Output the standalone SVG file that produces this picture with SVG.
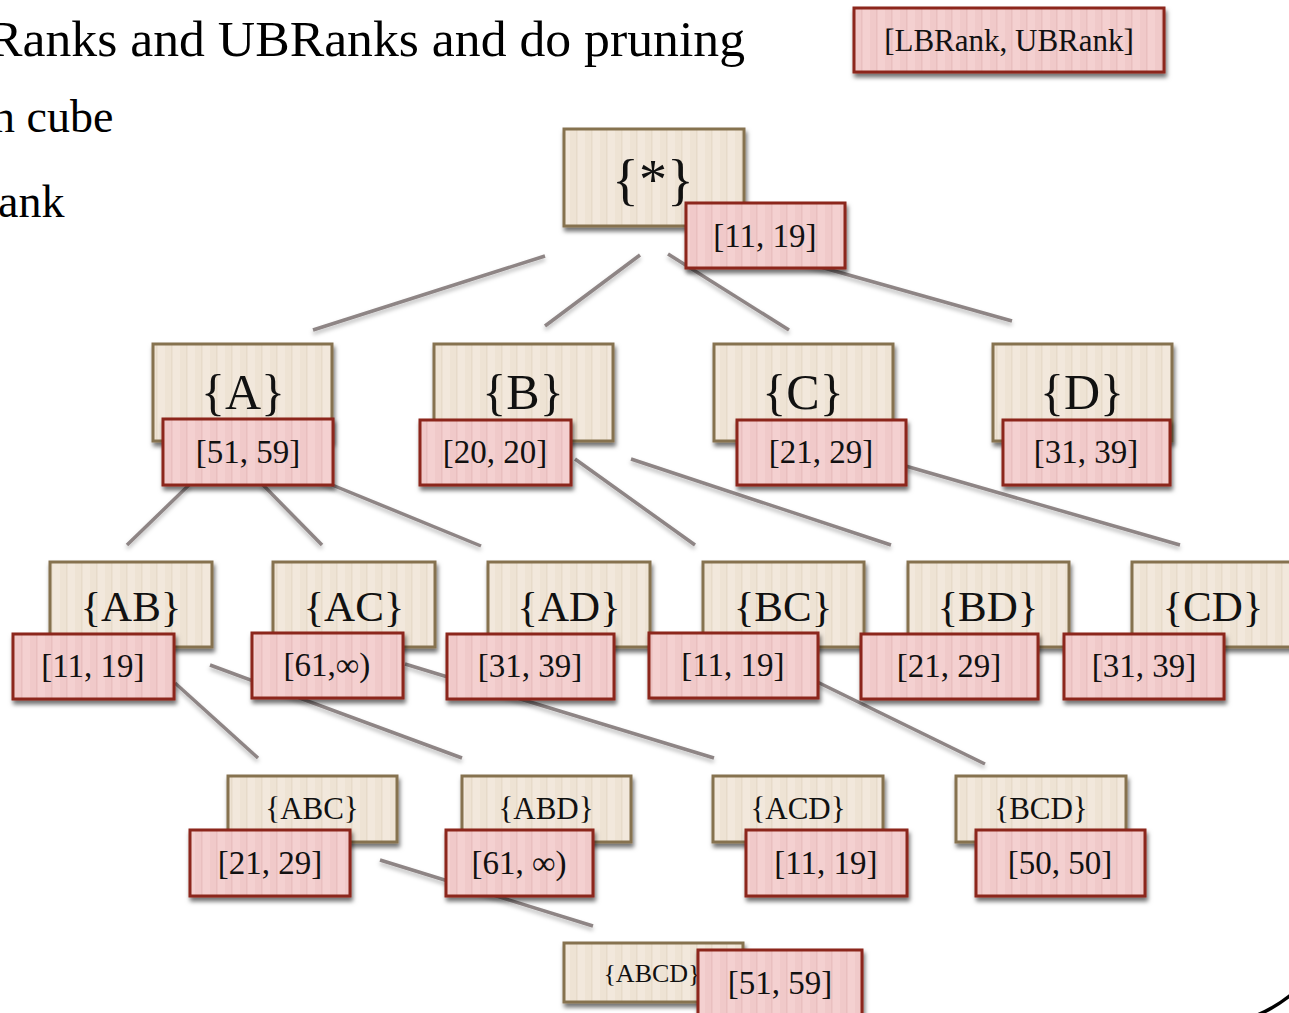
<svg xmlns="http://www.w3.org/2000/svg" width="1289" height="1013" viewBox="0 0 1289 1013">
  <defs>
    <pattern id="stripeSet" patternUnits="userSpaceOnUse" width="15" height="10">
      <rect width="15" height="10" fill="#f2e8dc"/>
      <rect x="0" width="6" height="10" fill="#eee3d4"/>
      <rect x="6" width="1.5" height="10" fill="#e7dbca"/>
    </pattern>
    <pattern id="stripeRank" patternUnits="userSpaceOnUse" width="15" height="10">
      <rect width="15" height="10" fill="#f4d0d0"/>
      <rect x="0" width="6" height="10" fill="#f0c9c9"/>
      <rect x="6" width="1.5" height="10" fill="#e9bfbf"/>
    </pattern>
    <filter id="boxShadow" x="-10%" y="-10%" width="125%" height="135%">
      <feDropShadow dx="1.5" dy="4" stdDeviation="2.2" flood-color="#000" flood-opacity="0.55"/>
    </filter>
    <filter id="lineShadow" x="-5%" y="-5%" width="110%" height="115%">
      <feDropShadow dx="0" dy="3" stdDeviation="2" flood-color="#000" flood-opacity="0.28"/>
    </filter>
  </defs>
  <style>
    .set { fill: url(#stripeSet); stroke: #86724f; stroke-width: 3; filter: url(#boxShadow); }
    .rank { fill: url(#stripeRank); stroke: #8c261b; stroke-width: 3; filter: url(#boxShadow); }
    .edge { stroke: #8e8585; stroke-width: 3.5; fill: none; }
    text { font-family: "Liberation Serif", "Times New Roman", serif; fill: #111; text-anchor: middle; }
    .head { text-anchor: start; fill: #000; }
    .t0 { font-size: 56px; }
    .t1 { font-size: 50px; }
    .t2 { font-size: 43px; }
    .t3 { font-size: 31px; }
    .t4 { font-size: 26px; }
    .r { font-size: 33px; }
  </style>

  <rect width="1289" height="1013" fill="#ffffff"/>

  <!-- slide heading lines, running in from the left margin -->
  <text class="head" x="-12" y="56" font-size="50" textLength="757" lengthAdjust="spacingAndGlyphs">Ranks and UBRanks and do pruning</text>
  <text class="head" x="-8" y="132" font-size="46">n cube</text>
  <text class="head" x="-2" y="217" font-size="46">ank</text>

  <!-- decorative arc, lower right -->
  <path d="M1255,1016 Q1275,1008 1292,994" fill="none" stroke="#000" stroke-width="3.5"/>

  <!-- legend -->
  <g id="legend">
    <rect class="rank" x="854" y="8" width="310" height="64"/>
    <text x="1009" y="51" font-size="31">[LBRank, UBRank]</text>
  </g>

  <!-- lattice edges -->
  <g id="connectors" filter="url(#lineShadow)">
    <line class="edge" x1="545" y1="256" x2="313" y2="330"/>
    <line class="edge" x1="640" y1="255" x2="545" y2="326"/>
    <line class="edge" x1="668" y1="254" x2="789" y2="330"/>
    <line class="edge" x1="760" y1="250" x2="1012" y2="321"/>

    <line class="edge" x1="190" y1="484" x2="127" y2="545"/>
    <line class="edge" x1="262" y1="484" x2="322" y2="545"/>
    <line class="edge" x1="320" y1="480" x2="481" y2="546"/>
    <line class="edge" x1="575" y1="459" x2="695" y2="545"/>
    <line class="edge" x1="631" y1="459" x2="891" y2="545"/>
    <line class="edge" x1="850" y1="450" x2="1180" y2="545"/>

    <line class="edge" x1="175" y1="683" x2="258" y2="758"/>
    <line class="edge" x1="210" y1="665" x2="462" y2="758"/>
    <line class="edge" x1="405" y1="664" x2="714" y2="758"/>
    <line class="edge" x1="805" y1="676" x2="985" y2="764"/>

    <line class="edge" x1="380" y1="860" x2="593" y2="926"/>
  </g>

  <!-- apex -->
  <g id="n-all">
    <rect class="set" x="564" y="129" width="180" height="97"/>
    <text class="t0" x="653" y="199">{*}</text>
    <rect class="rank" x="686" y="203" width="159" height="65"/>
    <text class="r" x="765" y="247">[11, 19]</text>
  </g>

  <!-- single dimensions -->
  <g id="n-A">
    <rect class="set" x="153" y="344" width="179" height="97"/>
    <text class="t1" x="243" y="409">{A}</text>
    <rect class="rank" x="163" y="419" width="170" height="66"/>
    <text class="r" x="248" y="463">[51, 59]</text>
  </g>
  <g id="n-B">
    <rect class="set" x="434" y="344" width="179" height="97"/>
    <text class="t1" x="523" y="409">{B}</text>
    <rect class="rank" x="420" y="420" width="151" height="65"/>
    <text class="r" x="495" y="463">[20, 20]</text>
  </g>
  <g id="n-C">
    <rect class="set" x="714" y="344" width="179" height="97"/>
    <text class="t1" x="803" y="409">{C}</text>
    <rect class="rank" x="737" y="420" width="169" height="65"/>
    <text class="r" x="821" y="463">[21, 29]</text>
  </g>
  <g id="n-D">
    <rect class="set" x="993" y="344" width="179" height="97"/>
    <text class="t1" x="1082" y="409">{D}</text>
    <rect class="rank" x="1003" y="420" width="167" height="65"/>
    <text class="r" x="1086" y="463">[31, 39]</text>
  </g>

  <!-- pairs -->
  <g id="n-AB">
    <rect class="set" x="50" y="562" width="162" height="85"/>
    <text class="t2" x="131" y="621">{AB}</text>
    <rect class="rank" x="13" y="634" width="161" height="65"/>
    <text class="r" x="93" y="677">[11, 19]</text>
  </g>
  <g id="n-AC">
    <rect class="set" x="273" y="562" width="162" height="85"/>
    <text class="t2" x="354" y="621">{AC}</text>
    <rect class="rank" x="252" y="633" width="151" height="65"/>
    <text class="r" x="327" y="676">[61,∞)</text>
  </g>
  <g id="n-AD">
    <rect class="set" x="488" y="562" width="162" height="85"/>
    <text class="t2" x="569" y="621">{AD}</text>
    <rect class="rank" x="447" y="634" width="167" height="65"/>
    <text class="r" x="530" y="677">[31, 39]</text>
  </g>
  <g id="n-BC">
    <rect class="set" x="703" y="562" width="161" height="85"/>
    <text class="t2" x="783" y="621">{BC}</text>
    <rect class="rank" x="649" y="633" width="169" height="65"/>
    <text class="r" x="733" y="676">[11, 19]</text>
  </g>
  <g id="n-BD">
    <rect class="set" x="908" y="562" width="161" height="85"/>
    <text class="t2" x="988" y="621">{BD}</text>
    <rect class="rank" x="861" y="634" width="177" height="65"/>
    <text class="r" x="949" y="677">[21, 29]</text>
  </g>
  <g id="n-CD">
    <rect class="set" x="1132" y="562" width="162" height="85"/>
    <text class="t2" x="1213" y="621">{CD}</text>
    <rect class="rank" x="1064" y="634" width="160" height="65"/>
    <text class="r" x="1144" y="677">[31, 39]</text>
  </g>

  <!-- triples -->
  <g id="n-ABC">
    <rect class="set" x="228" y="776" width="169" height="66"/>
    <text class="t3" x="312" y="819">{ABC}</text>
    <rect class="rank" x="190" y="830" width="160" height="66"/>
    <text class="r" x="270" y="874">[21, 29]</text>
  </g>
  <g id="n-ABD">
    <rect class="set" x="462" y="776" width="169" height="66"/>
    <text class="t3" x="546" y="819">{ABD}</text>
    <rect class="rank" x="446" y="830" width="147" height="66"/>
    <text class="r" x="519" y="874">[61, ∞)</text>
  </g>
  <g id="n-ACD">
    <rect class="set" x="713" y="776" width="170" height="66"/>
    <text class="t3" x="798" y="819">{ACD}</text>
    <rect class="rank" x="746" y="830" width="161" height="66"/>
    <text class="r" x="826" y="874">[11, 19]</text>
  </g>
  <g id="n-BCD">
    <rect class="set" x="956" y="776" width="170" height="66"/>
    <text class="t3" x="1041" y="819">{BCD}</text>
    <rect class="rank" x="976" y="830" width="169" height="66"/>
    <text class="r" x="1060" y="874">[50, 50]</text>
  </g>

  <!-- full set -->
  <g id="n-ABCD">
    <rect class="set" x="564" y="943" width="179" height="59"/>
    <text class="t4" x="652" y="982">{ABCD}</text>
    <rect class="rank" x="698" y="950" width="164" height="75"/>
    <text class="r" x="780" y="994">[51, 59]</text>
  </g>
</svg>
